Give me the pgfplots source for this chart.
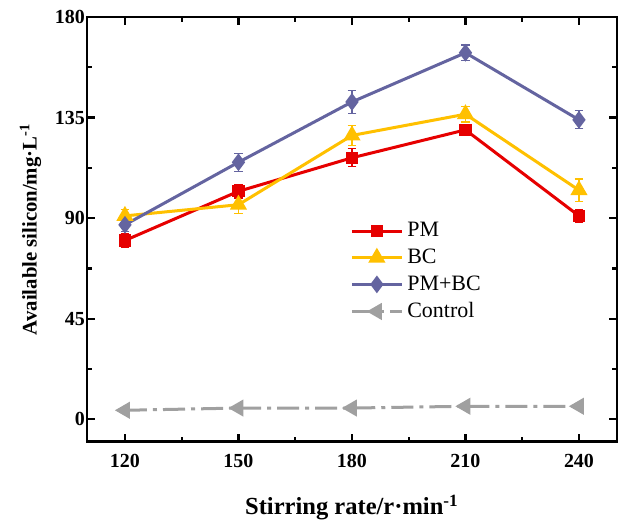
\documentclass[border=0pt]{standalone}
\usepackage{fontspec}
\setmainfont{Liberation Serif}
\usepackage{pgfplots}
\pgfplotsset{compat=1.18}

\definecolor{cPM}{RGB}{230,0,0}
\definecolor{cBC}{RGB}{255,192,0}
\definecolor{cPMBC}{RGB}{100,100,160}
\definecolor{cCtl}{RGB}{160,160,160}

\begin{document}
\begin{tikzpicture}
\begin{axis}[
  name=ax,
  scale only axis,
  width=264.5bp, height=212bp,
  xmin=110, xmax=250,
  ymin=-10, ymax=180,
  xtick={120,150,180,210,240},
  ytick={0,45,90,135,180},
  minor x tick num=1, minor y tick num=1,
  tick align=inside,
  major tick length=4bp, minor tick length=2.5bp,
  axis line style={line width=1.2bp},
  every tick/.style={black, line width=1.1bp},
  /pgf/number format/assume math mode=true,
  tick label style={font=\fontsize{10}{12}\selectfont\bfseries},
  xticklabel shift=3bp,
  yticklabel shift=-2.4bp,
  xlabel shift=6.5bp,
  xlabel style={font=\fontsize{12.3}{14}\selectfont\bfseries},
  ylabel style={font=\fontsize{10.4}{12}\selectfont\bfseries},
  xlabel={Stirring rate/r·min\textsuperscript{-1}},
  ylabel={Available silicon/mg·L\textsuperscript{-1}},
  legend style={draw=none, fill=none, at={(0.485,0.536)}, anchor=north west,
    font=\fontsize{11}{13}\selectfont, row sep=0.6bp},
  legend cell align=left,
  legend image code/.code={
    \draw[#1] (0cm,0cm) -- (0.88cm,0cm);
    \draw[#1, only marks] plot coordinates {(0.44cm,0cm)};
  },
  every axis plot/.append style={line width=1.5bp},
  error bars/error bar style={line width=0.6bp},
  error bars/error mark options={rotate=90, mark size=2.2bp, line width=0.6bp},
]
\addplot[color=cPM, mark=square*, mark size=2.3bp,
  error bars/.cd, y dir=both, y explicit]
  coordinates {
  (120,80) +- (0,3)
  (150,102) +- (0,3)
  (180,117) +- (0,4)
  (210,129.5) +- (0,2)
  (240,91) +- (0,3)
};
\addplot[color=cBC, mark=triangle*, mark size=3.5bp,
  error bars/.cd, y dir=both, y explicit]
  coordinates {
  (120,91) +- (0,3)
  (150,96) +- (0,4)
  (180,127) +- (0,4.5)
  (210,136.5) +- (0,3.5)
  (240,102.5) +- (0,5)
};
\addplot[color=cPMBC, mark=diamond*, mark size=3.2bp,
  error bars/.cd, y dir=both, y explicit]
  coordinates {
  (120,87) +- (0,3)
  (150,115) +- (0,4)
  (180,142) +- (0,5)
  (210,164) +- (0,3.5)
  (240,134) +- (0,4)
};
\addplot[color=cCtl, mark=triangle*, mark size=3.5bp, mark options={rotate=90, solid},
  dash pattern=on 11bp off 3bp on 2bp off 3bp]
  coordinates {
  (120,4) (150,5) (180,5) (210,5.8) (240,5.8)
};
\legend{PM, BC, PM+BC, Control}
\end{axis}
\path (ax.north west) ++(0,8.5bp);
\path (ax.south west) ++(-43.5bp,0);
\end{tikzpicture}
\end{document}
